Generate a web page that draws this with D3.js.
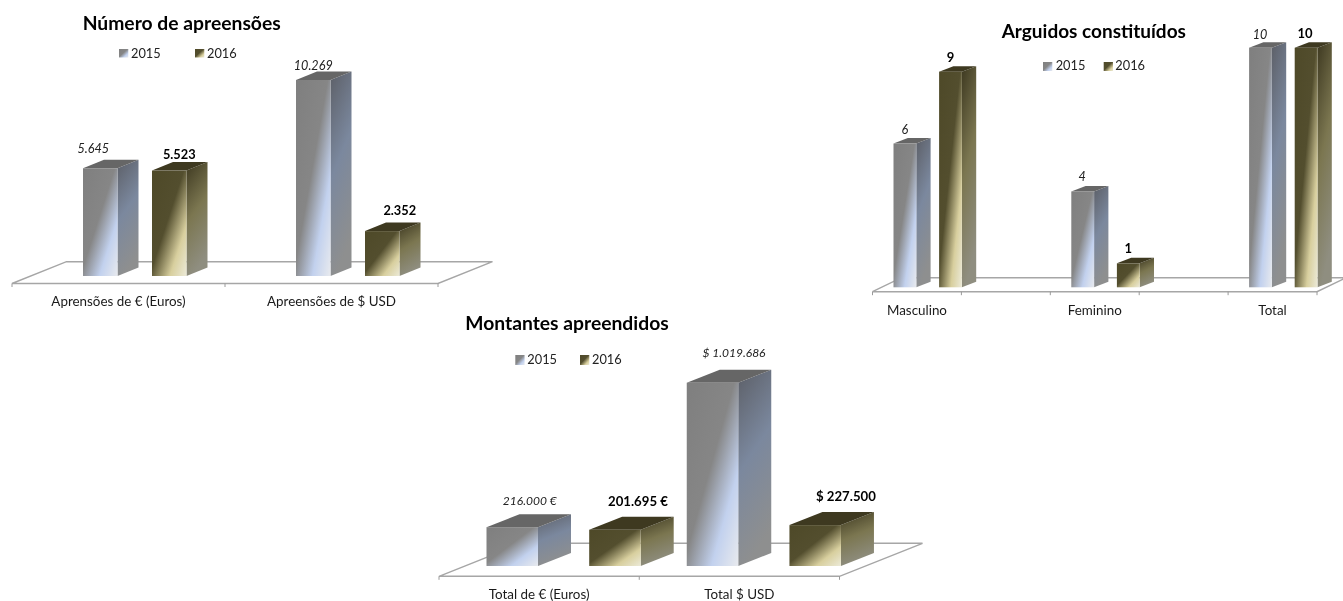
<!DOCTYPE html>
<html lang="pt">
<head>
<meta charset="utf-8">
<title>Apreensões</title>
<script src="https://cdn.jsdelivr.net/npm/d3@7/dist/d3.min.js"></script>
<style>
html,body{margin:0;padding:0;background:#fff;overflow:hidden}
svg{display:block;font-family:Lato,"Open Sans",sans-serif}
.soft{filter:blur(0.35px)}
svg text{filter:blur(0.25px)}
</style>
</head>
<body>
<svg id="c" width="1343" height="601"></svg>
<script>
// ---- data ----
const seriesNames = ["2015", "2016"];

const apreensoesCategorias = ["Aprensões de € (Euros)", "Apreensões de $ USD"];
const apreensoes2015 = [5645, 10269];
const apreensoes2016 = [5523, 2352];
const apreensoesLabels2015 = ["5.645", "10.269"];
const apreensoesLabels2016 = ["5.523", "2.352"];

const arguidosCategorias = ["Masculino", "", "Feminino", " ", "Total"];
const arguidos2015 = [6, null, 4, null, 10];
const arguidos2016 = [9, null, 1, null, 10];
const arguidosLabels2015 = ["6", "", "4", "", "10"];
const arguidosLabels2016 = ["9", "", "1", "", "10"];

const montantesCategorias = ["Total de € (Euros)", "Total $ USD"];
const montantes2015 = [216000, 1019686];
const montantes2016 = [201695, 227500];
const montantesLabels2015 = ["216.000 €", "$ 1.019.686"];
const montantesLabels2016 = ["201.695 €", "$ 227.500"];

// ---- layout ----
const charts = [
  { id:"a", title:"Número de apreensões", titleX:181.7, titleY:30, titleSize:19.3,
    cats:apreensoesCategorias, s15:apreensoes2015, s16:apreensoes2016, l15:apreensoesLabels2015, l16:apreensoesLabels2016,
    x0:12, x1:438, base:276, floorY:283.5, floorDx:54.5, floorDy:21.8,
    offset:71, step:69, barW:34.5, dx:21, dy:8.5, maxV:10269, maxH:196,
    catY:305.7, catSize:13.4, labelSize:12.8, italicSize:12.6,
    nudge15:[[-7,15],[0,10]], nudge16:[[10,11.6],[17.5,16]],
    legendY:[49,57.5], legendSw:[119,195], legendTx:[131,207], legendSize:12.8, swH:8.5 },
  { id:"b", title:"Arguidos constituídos", titleX:1093.8, titleY:37.7, titleSize:19,
    cats:arguidosCategorias, s15:arguidos2015, s16:arguidos2016, l15:arguidosLabels2015, l16:arguidosLabels2016,
    x0:872.5, x1:1317, base:287.3, floorY:291.7, floorDx:29, floorDy:14,
    offset:21, step:45.6, barW:22.8, dx:14.3, dy:5.5, maxV:10, maxH:239.6,
    catY:315, catSize:13.4, labelSize:13, italicSize:12.6,
    nudge15:[[0,10],null,[-0.5,10],null,[-0.5,9]], nudge16:[[0,10],null,[0,10],null,[-1,9.5]],
    legendY:[62,70], legendSw:[1043,1103.7], legendTx:[1055.7,1115.3], legendSize:12.8, swH:9 },
  { id:"c", title:"Montantes apreendidos", titleX:567, titleY:330, titleSize:19.3,
    cats:montantesCategorias, s15:montantes2015, s16:montantes2016, l15:montantesLabels2015, l16:montantesLabels2016,
    x0:439, x1:839.5, base:566, floorY:576.3, floorDx:83, floorDy:33,
    offset:47.5, step:102.7, barW:51.5, dx:33, dy:13, maxV:1019686, maxH:183.3,
    catY:599, catSize:13.4, labelSize:13.2, italicSize:12,
    nudge15:[[17.5,22],[21.5,25.7]], nudge16:[[23,23.7],[30.7,24.3]],
    legendY:[355,364], legendSw:[515.3,580], legendTx:[527.3,592], legendSize:12.8, swH:10 }
];

const svg = d3.select("#c");
const defs = svg.append("defs");

function grad(id, stops, x2, y2){
  const g = defs.append("linearGradient").attr("id", id)
    .attr("x1",0).attr("y1",0).attr("x2",x2).attr("y2",y2);
  g.selectAll("stop").data(stops).join("stop")
    .attr("offset", d=>d[0]).attr("stop-color", d=>d[1]);
}
grad("front0", [[0,"#7f7f7f"],[0.46,"#868686"],[0.74,"#c2d1ee"],[1,"#e8eaee"]],1,1);
grad("front1", [[0,"#4e4928"],[0.46,"#534e2e"],[0.76,"#d8cf9e"],[1,"#ecead8"]],1,1);
grad("side0",  [[0,"#5c5f67"],[0.5,"#7b889e"],[1,"#8e8f8f"]],0.25,1);
grad("side1",  [[0,"#3d3820"],[0.5,"#7b7650"],[1,"#8f8e80"]],0.25,1);
const topFill = ["#666666","#3e3920"];

charts.forEach(c=>{
  const g = svg.append("g").attr("class","soft");
  const x = d3.scaleBand().domain(c.cats).range([c.x0,c.x1]);
  const sub = d3.scaleBand().domain(seriesNames).range([0,c.step*2]);
  const h = d3.scaleLinear().domain([0,c.maxV]).range([0,c.maxH]);
  const y = v => c.base - h(v);

  // floor
  const fy=c.floorY, bx=c.floorDx, by=c.floorDy;
  g.append("path")
    .attr("d",`M${c.x0},${fy}L${c.x0+bx},${fy-by}L${c.x1+bx},${fy-by}L${c.x1},${fy}Z`)
    .attr("fill","#fff").attr("stroke","#a6a6a6").attr("stroke-width",1.4);

  // x axis: labels through d3.axisBottom, ticks at band edges
  const axis = d3.axisBottom(x).tickSize(0).tickPadding(0);
  const ag = svg.append("g").attr("transform",`translate(0,${c.catY})`).call(axis);
  ag.select(".domain").remove();
  ag.selectAll("text").attr("dy",0).attr("y",0)
    .style("font-size",c.catSize+"px").attr("fill","#1a1a1a");
  ag.attr("font-family",null).attr("font-size",null);
  const edges = c.cats.map(d=>x(d)).concat([c.x1]);
  g.selectAll("line.tick").data(edges).join("line").attr("class","tick")
    .attr("x1",d=>d).attr("x2",d=>d).attr("y1",fy).attr("y2",fy+3.5)
    .attr("stroke","#9a9a9a");

  // bars
  const rows = [];
  c.cats.forEach((cat,i)=>{
    [[c.s15,c.l15,c.nudge15,0],[c.s16,c.l16,c.nudge16,1]].forEach(([vals,labs,nud,k])=>{
      if(vals[i]==null) return;
      rows.push({cat,v:vals[i],lab:labs[i],nud:nud[i],k});
    });
  });
  const bar = g.selectAll("g.bar").data(rows).join("g").attr("class","bar");
  const bx0 = d=> x(d.cat)+c.offset+sub(seriesNames[d.k]);
  bar.append("path").attr("fill",d=>`url(#side${d.k})`)
    .attr("d",d=>{const l=bx0(d)+c.barW,t=y(d.v);return `M${l},${t}L${l+c.dx},${t-c.dy}L${l+c.dx},${c.base-c.dy}L${l},${c.base}Z`;});
  bar.append("path").attr("fill",d=>topFill[d.k])
    .attr("d",d=>{const l=bx0(d),t=y(d.v);return `M${l},${t}L${l+c.dx},${t-c.dy}L${l+c.barW+c.dx},${t-c.dy}L${l+c.barW},${t}Z`;});
  bar.append("rect").attr("fill",d=>`url(#front${d.k})`)
    .attr("x",bx0).attr("y",d=>y(d.v)).attr("width",c.barW).attr("height",d=>h(d.v));

  // value labels
  svg.append("g").selectAll("text").data(rows).join("text")
    .attr("x",d=>bx0(d)+c.barW/2+d.nud[0]).attr("y",d=>y(d.v)-d.nud[1])
    .attr("text-anchor","middle")
    .style("font-size",d=>(d.k?c.labelSize:c.italicSize)+"px")
    .style("font-style",d=>d.k?"normal":"italic")
    .style("font-weight",d=>d.k?"700":"400")
    .attr("fill",d=>d.k?"#000":"#222").text(d=>d.lab);

  // title
  svg.append("text").attr("x",c.titleX).attr("y",c.titleY).attr("text-anchor","middle")
    .style("font-size",c.titleSize+"px").style("font-weight","700").attr("fill","#000").text(c.title);

  // legend
  seriesNames.forEach((s,i)=>{
    g.append("rect").attr("x",c.legendSw[i]).attr("y",c.legendY[0]).attr("width",9.3).attr("height",c.swH)
      .attr("fill",`url(#front${i})`);
    svg.append("text").attr("x",c.legendTx[i]).attr("y",c.legendY[1])
      .style("font-size",c.legendSize+"px").attr("fill","#222").text(s);
  });
});
</script>
</body>
</html>
